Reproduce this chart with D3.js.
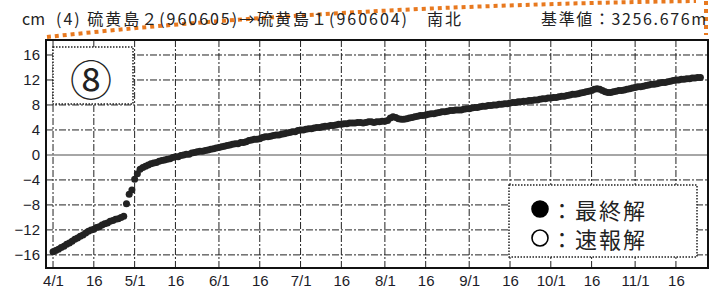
<!DOCTYPE html>
<html>
<head>
<meta charset="utf-8">
<script src="https://cdn.jsdelivr.net/npm/d3@7"></script>
<style>
  body { margin: 0; background: #fff; }
  svg { display: block; }
  .tick text { font-family: "Liberation Sans Narrow", "Arial Narrow", "Liberation Sans", sans-serif; font-size: 15px; fill: #1c1c28; }
  .jp { font-family: "Noto Sans CJK JP", sans-serif; fill: #222; }
</style>
</head>
<body>
<div id="chart"></div>
<script>
// 4/1 から毎日の値 (cm)
var startDate = new Date(Date.UTC(2022, 3, 1));
var values = [
  -15.5,-15.3,-15.1,-14.8,-14.6,-14.3,-14.1,-13.8,-13.5,-13.3,
  -13.0,-12.8,-12.5,-12.2,-12.0,-11.9,-11.6,-11.5,-11.2,-11.0,
  -10.9,-10.6,-10.5,-10.3,-10.2,-10.0,-9.8,-7.8,-6.3,-5.6,
  -3.9,-3.0,-2.3,-2.0,-1.8,-1.6,-1.4,-1.3,-1.2,-1.0,
  -0.9,-0.8,-0.7,-0.6,-0.4,-0.3,-0.3,-0.1,0.0,0.1,
  0.1,0.3,0.4,0.5,0.6,0.6,0.7,0.8,0.9,1.0,
  1.1,1.2,1.3,1.4,1.5,1.6,1.7,1.8,1.8,2.0,
  2.0,2.1,2.3,2.4,2.5,2.5,2.6,2.8,2.9,2.9,
  3.0,3.1,3.2,3.2,3.3,3.4,3.5,3.6,3.7,3.7,
  3.9,4.0,4.0,4.1,4.2,4.2,4.3,4.4,4.4,4.5,
  4.6,4.6,4.7,4.7,4.8,4.9,4.9,5.0,5.0,5.1,
  5.1,5.1,5.2,5.2,5.1,5.2,5.3,5.3,5.2,5.3,
  5.3,5.4,5.4,5.5,5.9,6.1,6.0,5.8,5.7,5.7,
  5.8,5.9,6.0,6.1,6.2,6.3,6.3,6.4,6.5,6.6,
  6.6,6.7,6.8,6.9,6.9,7.0,7.1,7.1,7.2,7.2,
  7.2,7.3,7.4,7.4,7.5,7.6,7.6,7.7,7.8,7.8,
  7.9,7.9,8.0,8.0,8.1,8.1,8.2,8.2,8.3,8.4,
  8.4,8.5,8.5,8.6,8.6,8.7,8.7,8.8,8.8,8.9,
  9.0,9.0,9.1,9.1,9.2,9.2,9.3,9.4,9.4,9.5,
  9.6,9.7,9.7,9.8,9.9,10.0,10.1,10.2,10.3,10.5,
  10.6,10.5,10.3,10.1,10.0,10.0,10.1,10.2,10.3,10.3,
  10.4,10.5,10.6,10.7,10.8,10.9,10.9,11.0,11.1,11.2,
  11.3,11.3,11.4,11.5,11.6,11.6,11.7,11.8,11.9,12.0,
  12.0,12.1,12.1,12.2,12.2,12.3,12.3,12.4,12.4
];
var yTicks = [-16, -12, -8, -4, 0, 4, 8, 12, 16];
// 目盛り: [月, 日, ラベル]
var xTicks = [
  [4,1,"4/1"],[4,16,"16"],[5,1,"5/1"],[5,16,"16"],[6,1,"6/1"],[6,16,"16"],
  [7,1,"7/1"],[7,16,"16"],[8,1,"8/1"],[8,16,"16"],[9,1,"9/1"],[9,16,"16"],
  [10,1,"10/1"],[10,16,"16"],[11,1,"11/1"],[11,16,"16"]
];
var titleLeft = "(4) 硫黄島２(960605)→硫黄島１(960604)　南北";
var titleRight = "基準値：3256.676m";
var legendItems = ["最終解", "速報解"];

var W = 720, H = 286;
var plot = {left: 46, right: 708, top: 40, bottom: 268};

var data = values.map(function (v, i) {
  return {date: d3.utcDay.offset(startDate, i), value: v};
});

var x = d3.scaleUtc()
  .domain([d3.utcHour.offset(startDate, -62), d3.utcHour.offset(startDate, 240.8 * 24)])
  .range([plot.left, plot.right]);
var y = d3.scaleLinear().domain([-18.1, 18.4]).range([plot.bottom, plot.top]);

var svg = d3.select("#chart").append("svg").attr("width", W).attr("height", H);

// orange dotted callout
svg.append("path")
  .attr("d", "M47,37 Q330,6 696,1")
  .attr("fill", "none").attr("stroke", "#e8791f").attr("stroke-width", 4)
  .attr("stroke-dasharray", "4,4");
svg.append("path")
  .attr("d", "M706,1 L706,35")
  .attr("fill", "none").attr("stroke", "#e8791f").attr("stroke-width", 4)
  .attr("stroke-dasharray", "4,4");

// titles
svg.append("text").attr("class", "jp").attr("x", 22).attr("y", 25)
  .style("font-size", "16px").text("cm");
svg.append("text").attr("class", "jp").attr("x", 56).attr("y", 25)
  .attr("textLength", 405).attr("lengthAdjust", "spacing")
  .style("font-size", "16px").text(titleLeft);
svg.append("text").attr("class", "jp").attr("x", 541).attr("y", 25)
  .attr("textLength", 165).attr("lengthAdjust", "spacing")
  .style("font-size", "16px").text(titleRight);

var tickDates = xTicks.map(function (t) { return new Date(Date.UTC(2022, t[0] - 1, t[1])); });

// grid
var grid = svg.append("g").attr("class", "grid");
grid.selectAll("line.v").data(tickDates).enter().append("line")
  .attr("class", "v")
  .attr("x1", function (d) { return x(d); }).attr("x2", function (d) { return x(d); })
  .attr("y1", plot.top).attr("y2", plot.bottom)
  .attr("stroke", "#222").attr("stroke-width", 1).attr("stroke-dasharray", "7,2,2,2");
grid.selectAll("line.h").data(yTicks).enter().append("line")
  .attr("class", "h")
  .attr("x1", plot.left).attr("x2", plot.right)
  .attr("y1", function (d) { return y(d); }).attr("y2", function (d) { return y(d); })
  .attr("stroke", function (d) { return d === 0 ? "#888" : "#222"; })
  .attr("stroke-width", function (d) { return d === 0 ? 1.6 : 1; })
  .attr("stroke-dasharray", function (d) { return d === 0 ? null : "7,2,2,2"; });

// axes (labels only)
var yAxis = svg.append("g")
  .attr("transform", "translate(" + plot.left + ",0)")
  .call(d3.axisLeft(y).tickValues(yTicks).tickSize(0).tickPadding(6)
    .tickFormat(function (d) { return d < 0 ? "−" + Math.abs(d) : d; }));
yAxis.select(".domain").remove();

var xAxis = svg.append("g")
  .attr("transform", "translate(0," + plot.bottom + ")")
  .call(d3.axisBottom(x).tickValues(tickDates).tickSize(0).tickPadding(7)
    .tickFormat(function (d, i) { return xTicks[i][2]; }));
xAxis.select(".domain").remove();

// points
svg.append("g").selectAll("circle").data(data).enter().append("circle")
  .attr("cx", function (d) { return x(d.date); })
  .attr("cy", function (d) { return y(d.value); })
  .attr("r", 3.5)
  .attr("fill", "#222");

// frame
svg.append("rect")
  .attr("x", plot.left).attr("y", plot.top)
  .attr("width", plot.right - plot.left).attr("height", plot.bottom - plot.top)
  .attr("fill", "none").attr("stroke", "#111").attr("stroke-width", 2);

// ⑧ box
svg.append("rect").attr("x", 53).attr("y", 47).attr("width", 80).attr("height", 57)
  .attr("fill", "#fff").attr("stroke", "#222").attr("stroke-width", 1.5)
  .attr("stroke-dasharray", "1.5,1.5");
svg.append("text").attr("class", "jp").attr("x", 91).attr("y", 77)
  .attr("text-anchor", "middle").attr("dominant-baseline", "central")
  .style("font-size", "42px").text("⑧");

// legend
var lg = svg.append("g");
lg.append("rect").attr("x", 509).attr("y", 185).attr("width", 188).attr("height", 72)
  .attr("fill", "#fff").attr("stroke", "#222").attr("stroke-width", 1.5)
  .attr("stroke-dasharray", "1.5,1.5");
lg.selectAll("circle").data(legendItems).enter().append("circle")
  .attr("cx", 540).attr("cy", function (d, i) { return 209 + i * 29; })
  .attr("r", 8)
  .attr("fill", function (d, i) { return i === 0 ? "#000" : "#fff"; })
  .attr("stroke", "#000").attr("stroke-width", 1.6);
lg.selectAll("text").data(legendItems).enter().append("text")
  .attr("class", "jp")
  .attr("x", 551).attr("y", function (d, i) { return 209 + i * 29; })
  .attr("dominant-baseline", "central")
  .style("font-size", "22px").style("letter-spacing", "2px")
  .text(function (d) { return "：" + d; });
</script>
</body>
</html>
